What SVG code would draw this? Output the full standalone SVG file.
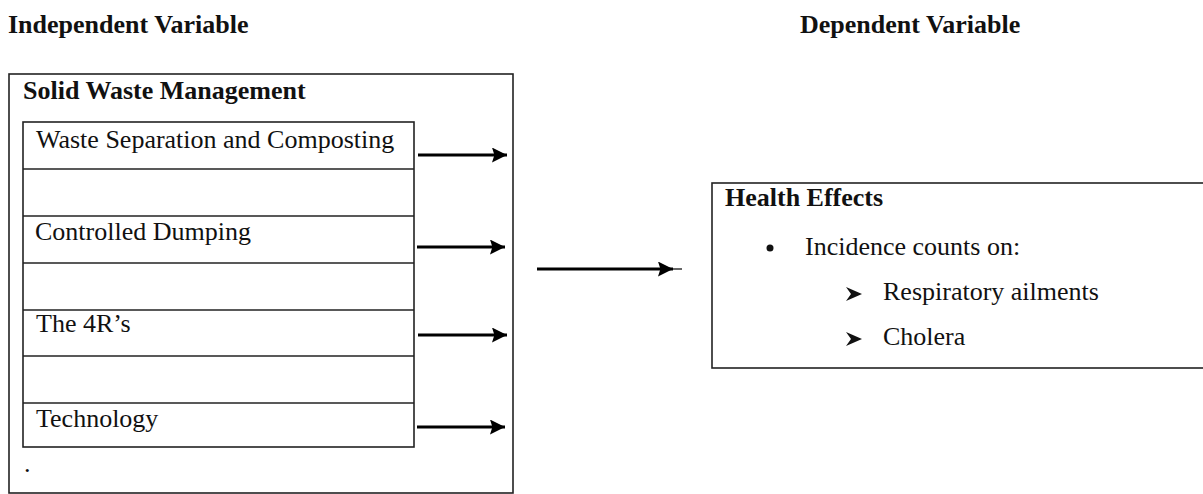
<svg xmlns="http://www.w3.org/2000/svg" width="1203" height="494" viewBox="0 0 1203 494" font-family="'Liberation Serif', 'DejaVu Serif', serif">
<style>
text{font-family:'Liberation Serif','DejaVu Serif',serif;font-size:26px;fill:#111}
.b{font-weight:bold}
.box{fill:#fff;stroke:#222;stroke-width:1.6}
.row{fill:none;stroke:#222;stroke-width:1.6}
.arr{stroke:#000;stroke-width:3;fill:none}
.tip{fill:#111}
</style>
<defs>
<marker id="ah" markerWidth="6" markerHeight="5" refX="5" refY="2.5" orient="auto" markerUnits="strokeWidth">
<path d="M0,0 L5,2.5 L0,5 L0.8,2.5 Z" fill="#000"/>
</marker>
</defs>
<rect width="1203" height="494" fill="#fff"/>
<g id="headers">
<text class="b" x="8" y="33">Independent Variable</text>
<text class="b" x="800" y="33">Dependent Variable</text>
</g>
<g id="solid-waste-management">
<rect class="box" x="9" y="74" width="504" height="419"/>
<text class="b" x="23" y="99">Solid Waste Management</text>
<text x="24" y="472" font-size="18">.</text>
</g>
<g id="sub-items">
<rect class="row" x="23" y="122" width="391" height="325"/>
<line class="row" x1="23" y1="169" x2="414" y2="169"/>
<line class="row" x1="23" y1="216" x2="414" y2="216"/>
<line class="row" x1="23" y1="263" x2="414" y2="263"/>
<line class="row" x1="23" y1="310" x2="414" y2="310"/>
<line class="row" x1="23" y1="356" x2="414" y2="356"/>
<line class="row" x1="23" y1="403" x2="414" y2="403"/>
</g>
<g id="item-1"><text x="36" y="148">Waste Separation and Composting</text></g>
<g id="item-2"><text x="35" y="240">Controlled Dumping</text></g>
<g id="item-3"><text x="36" y="332">The 4R’s</text></g>
<g id="item-4"><text x="36" y="427">Technology</text></g>
<g id="health-effects">
<rect class="box" x="712" y="183" width="495" height="185"/>
<text class="b" x="725" y="206">Health Effects</text>
<circle cx="770" cy="248" r="3.5" class="tip"/>
<text x="805" y="255">Incidence counts on:</text>
<path class="tip" d="M846,287 L862,294 L846,301 L851,294 Z"/>
<text x="883" y="300">Respiratory ailments</text>
<path class="tip" d="M846,332 L862,339 L846,346 L851,339 Z"/>
<text x="883" y="345">Cholera</text>
</g>
<g id="connectors">
<line class="arr" x1="418" y1="155" x2="507" y2="155" marker-end="url(#ah)"/>
<line class="arr" x1="417" y1="247" x2="505" y2="247" marker-end="url(#ah)"/>
<line class="arr" x1="418" y1="335" x2="507" y2="335" marker-end="url(#ah)"/>
<line class="arr" x1="417" y1="427" x2="505" y2="427" marker-end="url(#ah)"/>
<line class="arr" x1="537" y1="269" x2="673" y2="269" marker-end="url(#ah)"/>
<line x1="670" y1="269" x2="682" y2="269" stroke="#000" stroke-width="1.2"/>
</g>
</svg>
